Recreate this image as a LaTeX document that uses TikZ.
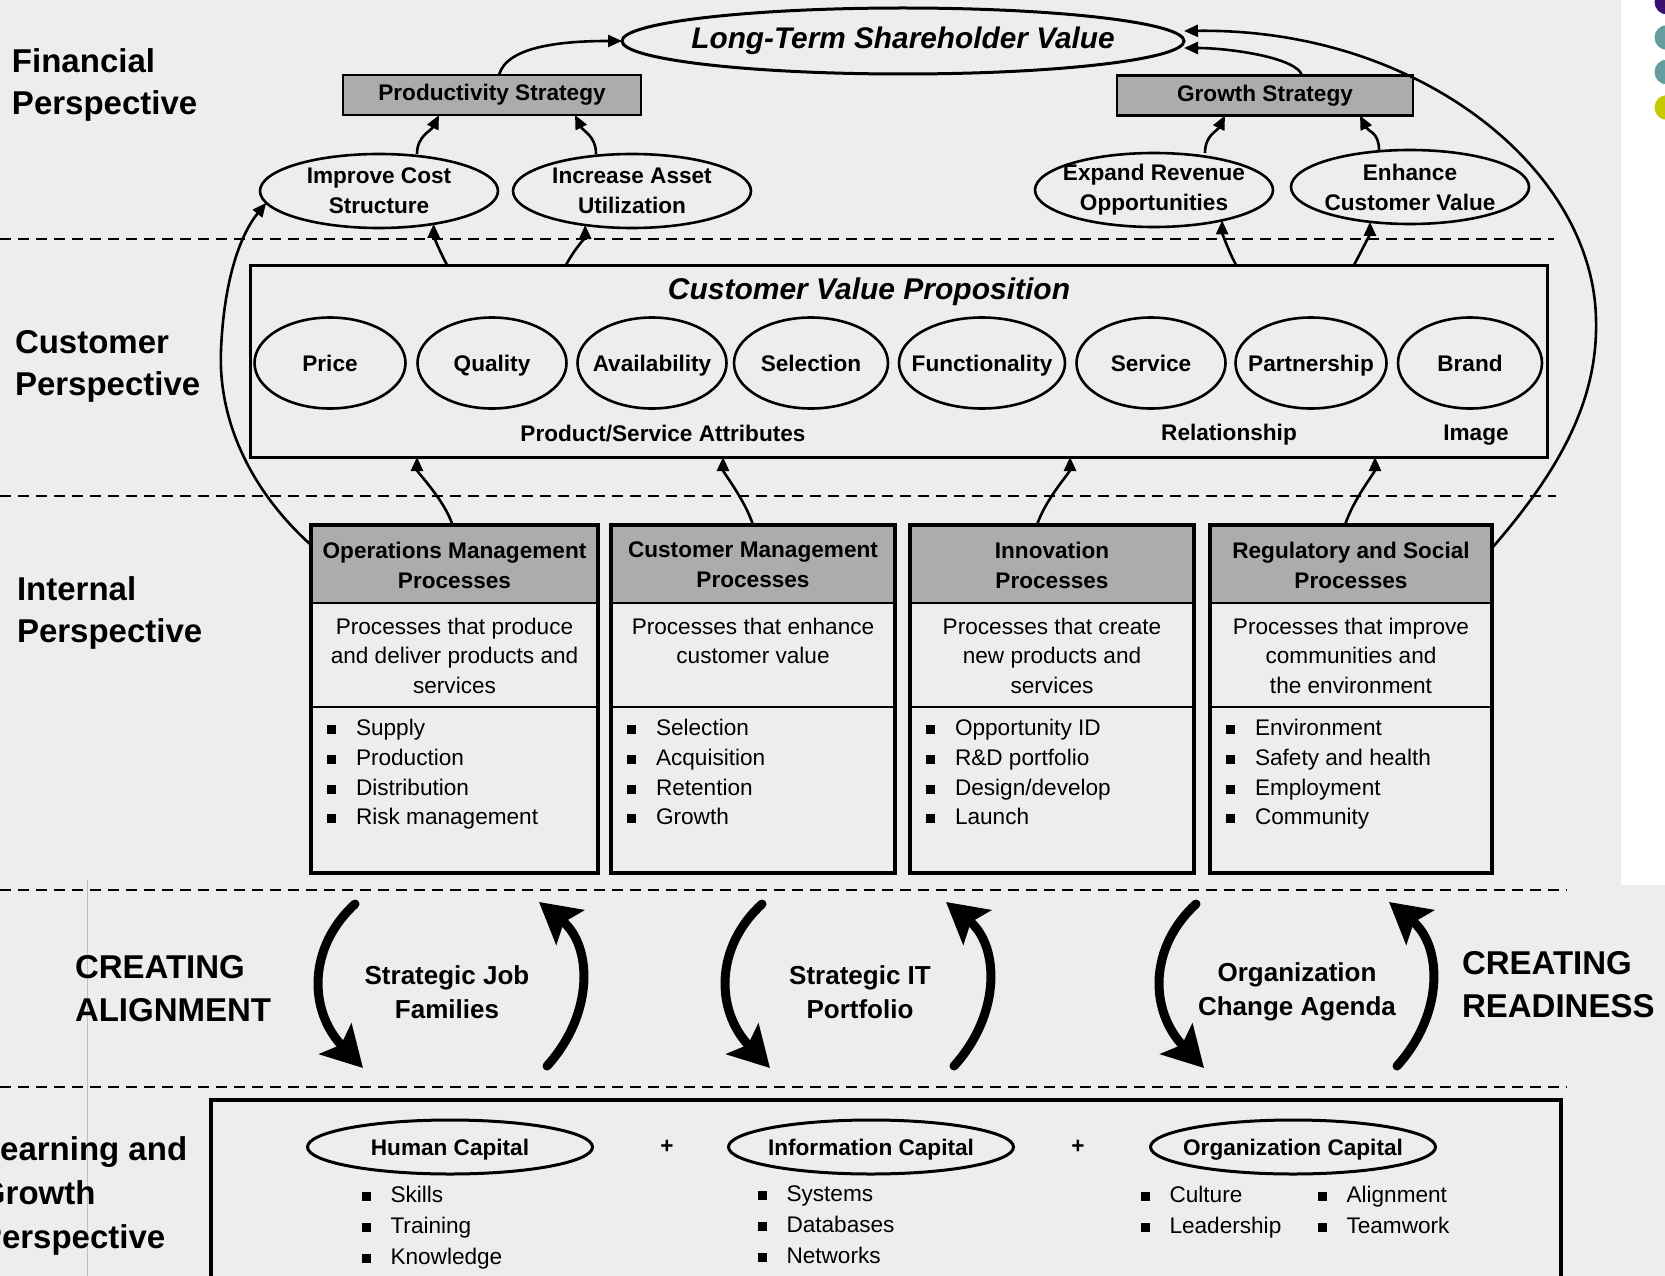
\documentclass[tikz,border=0pt]{standalone}
\usepackage{fontspec}
\setmainfont{Liberation Sans}
\usetikzlibrary{arrows.meta,shapes.geometric,calc}
\definecolor{bgc}{RGB}{237,237,237}
\definecolor{hdr}{RGB}{172,172,172}
\definecolor{dpur}{RGB}{60,14,110}
\definecolor{dteal}{RGB}{100,158,158}
\definecolor{dyel}{RGB}{200,200,0}
\newcommand\bsq{\rule[1.5pt]{9pt}{9pt}\hspace{20pt}}
\newcommand\zw[1]{\makebox[0pt]{#1}}
\tikzset{
  every node/.style={inner sep=0pt,outer sep=0pt},
  bigfont/.style={font=\fontsize{33}{42}\selectfont\bfseries},
  persp/.style={bigfont,align=left,anchor=west},
  lab/.style={font=\fontsize{22.6}{30}\selectfont\bfseries,align=center},
  midlab/.style={font=\fontsize{26}{34}\selectfont\bfseries,align=center},
  desc/.style={font=\fontsize{22.6}{29.5}\selectfont,align=center,anchor=north},
  blist/.style={font=\fontsize{22.6}{29.7}\selectfont,align=left,anchor=north west},
  lglist/.style={font=\fontsize{22.6}{31}\selectfont,align=left,anchor=north west},
  fell/.style={lab,draw,ellipse,line width=2.6pt,minimum width=238pt,minimum height=74pt},
  vcirc/.style={lab,draw,ellipse,line width=2.6pt,minimum height=91pt,text height=18pt,text depth=2pt},
  cell/.style={lab,draw,ellipse,line width=3pt,minimum width=285pt,minimum height=54pt,text height=18pt,text depth=2pt},
  strat/.style={lab,draw,fill=hdr,line width=2.6pt,minimum height=40pt},
  pbox/.style={draw,line width=3.5pt,minimum height=348pt,
    path picture={
      \fill[hdr] (path picture bounding box.north west) rectangle ([yshift=-78pt]path picture bounding box.north east);
      \draw[line width=2.6pt] ([yshift=-78pt]path picture bounding box.north west) -- ([yshift=-78pt]path picture bounding box.north east);
      \draw[line width=2.6pt] ([yshift=-182pt]path picture bounding box.north west) -- ([yshift=-182pt]path picture bounding box.north east);
    }},
  hdrtxt/.style={lab},
  conn/.style={line width=2.6pt,-{Triangle[length=14pt,width=12pt]}},
  bigarr/.style={line width=9pt,line cap=round,-{Stealth[length=40pt,width=44pt,inset=8pt]}},
  dline/.style={line width=2.6pt,dash pattern=on 11pt off 7pt},
}
\begin{document}
\begin{tikzpicture}[x=1pt,y=-1pt]
\useasboundingbox (0,0) rectangle (1665,1276);
\clip (0,0) rectangle (1665,1276);
\fill[bgc] (0,0) rectangle (1665,1276);
\fill[white] (1621,0) rectangle (1665,885);
\fill[dpur] (1667,2) circle[radius=12.5pt];
\fill[dteal] (1667,37.5) circle[radius=12.5pt];
\fill[dteal] (1667,72) circle[radius=12.5pt];
\fill[dyel] (1667,107.5) circle[radius=12.5pt];
\draw[black!25,line width=1pt] (87,880) -- (87,1276);

% separators
\draw[dline] (0,239) -- (1554,239);
\draw[dline] (0,496) -- (1556,496);
\draw[dline] (0,890) -- (1567,890);
\draw[dline] (0,1087) -- (1567,1087);

% perspective labels
\node[persp] (fin) at (12,85) {Financial\\Perspective};
\node[persp] (cus) at (15,366) {Customer\\Perspective};
\node[persp] (int) at (17,613) {Internal\\Perspective};
\node[persp,font=\fontsize{33}{44}\selectfont\bfseries] (lg) at (-20,1196) {Learning and\\Growth\\Perspective};

% financial
\node[draw,ellipse,line width=3pt,minimum width=562pt,minimum height=66pt,
  font=\fontsize{29.8}{36}\selectfont\bfseries\itshape] (lt) at (903,41) {\zw{Long-Term Shareholder Value}};
\node[strat,minimum width=298pt] (prod) at (492,95) {Productivity Strategy};
\node[strat,minimum width=296pt] (grow) at (1265,95.5) {Growth Strategy};
\node[fell] (ics) at (379,191) {\zw{Improve Cost}\\\zw{Structure}};
\node[fell] (iau) at (632,191) {\zw{Increase Asset}\\\zw{Utilization}};
\node[fell] (ero) at (1154,190) {\zw{Expand Revenue}\\\zw{Opportunities}};
\node[fell] (ecv) at (1410,187) {\zw{Enhance}\\\zw{Customer Value}};

% customer value proposition
\node[draw,line width=3pt,minimum width=1297pt,minimum height=192pt,anchor=north west] (cvp) at (250,265) {};
\node[font=\fontsize{30}{36}\selectfont\bfseries\itshape] (cvpt) at (869,292) {Customer Value Proposition};
\node[vcirc,minimum width=151pt] (price) at (330,363) {\zw{Price}};
\node[vcirc,minimum width=149pt] (qual) at (492,363) {\zw{Quality}};
\node[vcirc,minimum width=149pt] (avail) at (652,363) {\zw{Availability}};
\node[vcirc,minimum width=154pt] (sel) at (811,363) {\zw{Selection}};
\node[vcirc,minimum width=166pt] (func) at (982,363) {\zw{Functionality}};
\node[vcirc,minimum width=149pt] (serv) at (1151,363) {\zw{Service}};
\node[vcirc,minimum width=151pt] (part) at (1311,363) {\zw{Partnership}};
\node[vcirc,minimum width=144pt] (brand) at (1470,363) {\zw{Brand}};
\node[lab] (psa) at (663,434) {Product/Service Attributes};
\node[lab] (rel) at (1229,435) {Relationship};
\node[lab] (img) at (1476,435) {Image};

% internal processes
\node[pbox,minimum width=287pt] (ops) at (454.5,699) {};
\node[pbox,minimum width=284pt] (cm) at (753,699) {};
\node[pbox,minimum width=284pt] (inn) at (1052,699) {};
\node[pbox,minimum width=282pt] (reg) at (1351,699) {};

\node[hdrtxt] (opsh) at ([yshift=-40pt]ops.north) {Operations Management\\Processes};
\node[hdrtxt] (cmh) at ([yshift=-40pt]cm.north) {Customer Management\\Processes};
\node[hdrtxt] (innh) at ([yshift=-40pt]inn.north) {Innovation\\Processes};
\node[hdrtxt] (regh) at ([yshift=-40pt]reg.north) {Regulatory and Social\\Processes};

\node[desc] (opsd) at ([yshift=-93pt]ops.north) {Processes that produce\\and deliver products and\\services};
\node[desc] (cmd) at ([yshift=-93pt]cm.north) {Processes that enhance\\customer value};
\node[desc] (innd) at ([yshift=-93pt]inn.north) {Processes that create\\new products and\\services};
\node[desc] (regd) at ([yshift=-93pt]reg.north) {Processes that improve\\communities and\\the environment};

\node[blist] (opsb) at ([xshift=16pt,yshift=-194.5pt]ops.north west) {\bsq Supply\\\bsq Production\\\bsq Distribution\\\bsq Risk management};
\node[blist] (cmb) at ([xshift=16pt,yshift=-194.5pt]cm.north west) {\bsq Selection\\\bsq Acquisition\\\bsq Retention\\\bsq Growth};
\node[blist] (innb) at ([xshift=16pt,yshift=-194.5pt]inn.north west) {\bsq Opportunity ID\\\bsq R\&D portfolio\\\bsq Design/develop\\\bsq Launch};
\node[blist] (regb) at ([xshift=16pt,yshift=-194.5pt]reg.north west) {\bsq Environment\\\bsq Safety and health\\\bsq Employment\\\bsq Community};

% creating alignment / readiness
\node[align=left,anchor=west,font=\fontsize{33}{43}\selectfont\bfseries] (cal) at (75,989) {CREATING\\ALIGNMENT};
\node[align=left,anchor=west,font=\fontsize{33}{43}\selectfont\bfseries] (crd) at (1462,985) {CREATING\\READINESS};
\node[midlab] (sjf) at (447,992) {Strategic Job\\Families};
\node[midlab] (sit) at (860,992) {Strategic IT\\Portfolio};
\node[midlab] (oca) at (1297,992) {Organization\\Change Agenda};

\coordinate (d1s) at (355,904); \coordinate (d1e) at (363,1068);
\coordinate (u1s) at (547,1066); \coordinate (u1e) at (539,902);
\coordinate (d2s) at (762,904); \coordinate (d2e) at (770,1068);
\coordinate (u2s) at (954,1066); \coordinate (u2e) at (946,902);
\coordinate (d3s) at (1196,904); \coordinate (d3e) at (1204,1068);
\coordinate (u3s) at (1397,1066); \coordinate (u3e) at (1389,902);
\foreach \n in {1,2,3}{
  \draw[bigarr] (d\n s) .. controls +(-47,43) and +(-55,-58) .. (d\n e);
  \draw[bigarr] (u\n s) .. controls +(48,-53) and +(53,43) .. (u\n e);
}

% learning and growth
\node[draw,line width=3.5pt,minimum width=1350pt,minimum height=220pt,anchor=north west] (lgbox) at (211,1100) {};
\node[cell] (hc) at (450,1147) {\zw{Human Capital}};
\node[cell] (ic) at (871,1147) {\zw{Information Capital}};
\node[cell] (oc) at (1293,1147) {\zw{Organization Capital}};
\node[lab] (p1) at (667,1147) {+};
\node[lab] (p2) at (1078,1147) {+};
\node[lglist] (hcb) at (361.5,1186) {\bsq Skills\\\bsq Training\\\bsq Knowledge};
\node[lglist] (icb) at (757.5,1186) {\bsq Systems\\\bsq Databases\\\bsq Networks};
\node[lglist] (ocb1) at (1140.5,1186) {\bsq Culture\\\bsq Leadership};
\node[lglist] (ocb2) at (1317.5,1186) {\bsq Alignment\\\bsq Teamwork};

% connectors: financial
\draw[conn] ([xshift=38pt]ics.north) .. controls +(0,-18) and +(-8,16) .. ([xshift=-53pt]prod.south);
\draw[conn] ([xshift=-36pt]iau.north) .. controls +(0,-18) and +(8,16) .. ([xshift=83pt]prod.south);
\draw[conn] ([xshift=51pt]ero.north) .. controls +(0,-18) and +(-8,16) .. ([xshift=-40pt]grow.south);
\draw[conn] ([xshift=-31pt]ecv.north) .. controls +(0,-18) and +(8,16) .. ([xshift=95pt]grow.south);
\draw[conn] ([xshift=7pt]prod.north) .. controls +(8,-30) and +(-55,0) .. (lt.west);
\draw[conn] ([xshift=37pt]grow.north) .. controls +(-5,-18) and +(45,0) .. ([yshift=-7pt]lt.east);
\draw[conn] ([yshift=-23pt]reg.north east) .. controls (1560,470) and (1598,400) .. (1596,320)
   .. controls (1594,170) and (1420,28) .. ([yshift=10pt]lt.east);
\draw[conn] ([yshift=-20pt]ops.north west) .. controls (250,490) and (218,420) .. (221,350)
   .. controls (224,280) and (240,235) .. (ics.186);

% connectors: customer -> financial
\draw[conn] ([xshift=197pt]cvp.north west) .. controls +(-8,-15) and +(0,12) .. (ics.-31);
\draw[conn] ([xshift=316pt]cvp.north west) .. controls +(8,-15) and +(0,12) .. (iau.216);
\draw[conn] ([xshift=986pt]cvp.north west) .. controls +(-8,-15) and +(0,12) .. (ero.-24);
\draw[conn] ([xshift=1104pt]cvp.north west) .. controls +(8,-15) and +(0,12) .. (ecv.221);

% connectors: internal -> customer
\draw[conn] ([xshift=-2pt]ops.north) .. controls +(-8,-25) and +(0,15) .. ([xshift=167pt]cvp.south west);
\draw[conn] (cm.north) .. controls +(-8,-25) and +(0,15) .. ([xshift=473pt]cvp.south west);
\draw[conn] ([xshift=-15pt]inn.north) .. controls +(8,-25) and +(0,15) .. ([xshift=820pt]cvp.south west);
\draw[conn] ([xshift=-6pt]reg.north) .. controls +(8,-25) and +(0,15) .. ([xshift=1125pt]cvp.south west);
\end{tikzpicture}
\end{document}
